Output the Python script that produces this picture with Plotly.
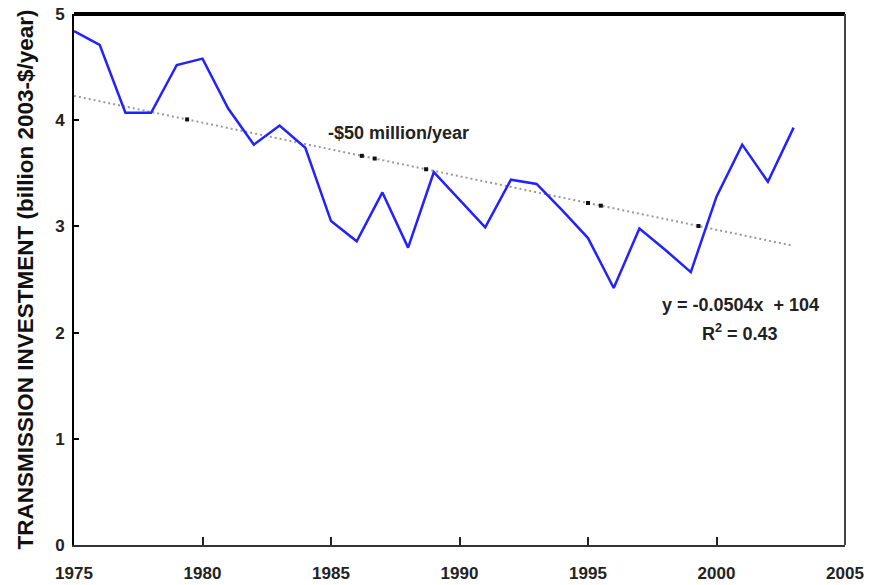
import numpy as np
import plotly.graph_objects as go

# Annual transmission investment, billion 2003-$ per year
years = list(range(1975, 2004))
investment = [4.84, 4.71, 4.07, 4.07, 4.52, 4.58, 4.11, 3.77, 3.95, 3.74,
              3.05, 2.86, 3.32, 2.80, 3.51, 3.25, 2.99, 3.44, 3.40, 3.15,
              2.89, 2.42, 2.98, 2.78, 2.57, 3.28, 3.77, 3.42, 3.93]

# Points along the trend line that show as solid black dots
trend_dots = [1979.4, 1986.2, 1986.7, 1988.7, 1995.0, 1995.5, 1999.3]

x_ticks = [1975, 1980, 1985, 1990, 1995, 2000, 2005]
y_ticks = [0, 1, 2, 3, 4, 5]

slope_label = "-$50 million/year"
equation_label = "y = -0.0504x  + 104"
r2_label = "R<sup>2</sup> = 0.43"
y_title = "TRANSMISSION INVESTMENT (billion 2003-$/year)"

# Linear least-squares trend of the series
coef = np.polyfit(years, investment, 1)
trend_x = [years[0], years[-1]]
trend_y = list(np.polyval(coef, trend_x))
dots_y = list(np.polyval(coef, trend_dots))

FONT = "Liberation Sans, Arial, sans-serif"

fig = go.Figure()
fig.add_trace(go.Scatter(
    x=trend_x, y=trend_y, mode="lines",
    line=dict(color="#9a9a9a", width=2, dash="2px,3px"),
    hoverinfo="skip", showlegend=False))
fig.add_trace(go.Scatter(
    x=trend_dots, y=dots_y, mode="markers",
    marker=dict(symbol="square", size=4, color="#111"),
    hoverinfo="skip", showlegend=False))
fig.add_trace(go.Scatter(
    x=years, y=investment, mode="lines",
    line=dict(color="#2222ff", width=2.5),
    showlegend=False))

ann_font = dict(family=FONT, size=18, color="#222", weight="bold")
fig.add_annotation(x=1987.63, y=3.88, text=slope_label, showarrow=False,
                   font=ann_font)
fig.add_annotation(x=2000.93, y=2.26, text=equation_label, showarrow=False,
                   font=ann_font)
fig.add_annotation(x=2000.93, y=2.00, text=r2_label, showarrow=False,
                   font=ann_font)
fig.add_annotation(xref="paper", yref="paper", x=0, y=0.5, xshift=-49,
                   text=y_title, textangle=-90, showarrow=False,
                   xanchor="center", yanchor="middle",
                   font=dict(family=FONT, size=22.5, color="#111", weight="bold"))

# Heavy top frame and thin right frame
fig.add_shape(type="line", xref="paper", yref="paper", x0=0, x1=1, y0=1, y1=1,
              line=dict(color="#000", width=4))
fig.add_shape(type="line", xref="paper", yref="paper", x0=1, x1=1, y0=0, y1=1,
              line=dict(color="#444", width=2))

tick_font = dict(family=FONT, size=17, color="#222", weight="bold")
fig.update_xaxes(range=[1975, 2005], tickvals=x_ticks,
                 ticktext=[str(t) for t in x_ticks],
                 ticks="inside", ticklen=8, tickwidth=1.5, tickcolor="#222",
                 showline=True, linecolor="#333", linewidth=2,
                 showgrid=False, zeroline=False, ticklabelstandoff=12,
                 automargin=False, tickfont=tick_font)
fig.update_yaxes(range=[0, 5], tickvals=y_ticks,
                 ticks="inside", ticklen=5, tickwidth=2, tickcolor="#000",
                 showline=True, linecolor="#000", linewidth=2,
                 showgrid=False, zeroline=False, ticklabelstandoff=4,
                 automargin=False, tickfont=tick_font)

fig.update_layout(width=874, height=585,
                  margin=dict(l=74, r=29, t=14, b=40, pad=0),
                  paper_bgcolor="white", plot_bgcolor="white")

fig.write_html("out.html")
